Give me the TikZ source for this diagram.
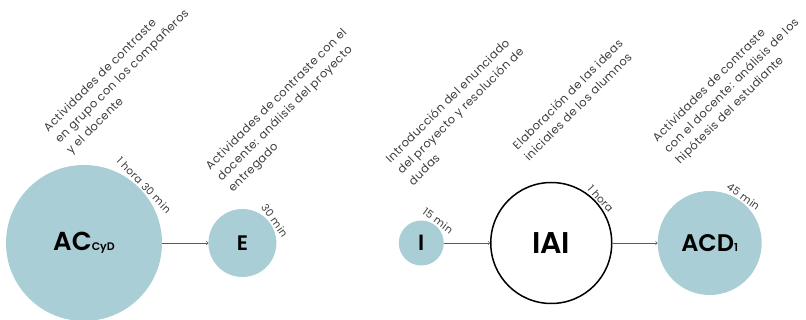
\documentclass[tikz,border=0pt]{standalone}
\usepackage{fontspec}
\setmainfont{Poppins}[BoldFont={Poppins SemiBold}]
\usetikzlibrary{positioning,arrows}
\definecolor{fase}{RGB}{170,206,213}
\definecolor{texto}{RGB}{60,60,60}

\tikzset{
  fase/.style={circle,fill=fase,text=black,inner sep=0pt,font=\bfseries},
  faseb/.style={circle,draw=black,line width=1.5pt,fill=white,inner sep=0pt,font=\bfseries},
  desc/.style={rotate=45,anchor=north west,inner sep=0pt,align=left,text=texto,
    font=\fontsize{11.5}{16}\selectfont\addfontfeature{LetterSpace=4}},
  dur/.style={anchor=south,inner sep=1pt,text=texto,
    font=\fontsize{10.5}{11}\selectfont\addfontfeature{LetterSpace=4}},
  flecha/.style={->,>=to,draw=black!65,line width=0.6pt}
}

\begin{document}
\begin{tikzpicture}[x=1pt,y=-1pt]
\useasboundingbox (0,0) rectangle (806,320);

% fases
\node [fase,minimum size=156pt] (acc) at (84,243)
  {\fontsize{26}{26}\selectfont AC\fontsize{11}{11}\selectfont CyD};
\node [fase,minimum size=68pt,right=46pt of acc] (e)
  {\fontsize{21}{21}\selectfont E};
\node [fase,minimum size=45pt,right=122pt of e] (i)
  {\fontsize{22}{22}\selectfont I};
\node [faseb,minimum size=121pt,right=46pt of i] (iai)
  {\fontsize{30}{30}\selectfont IAI};
\node [fase,minimum size=104pt,right=45pt of iai] (acd)
  {\fontsize{24}{24}\selectfont ACD\fontsize{11}{11}\selectfont 1};

\draw [flecha] (acc) -- (e);
\draw [flecha] (i) -- (iai);
\draw [flecha] (iai) -- (acd);

% duraciones
\node [dur,rotate=-46] at (acc.44) {1 hora 30 min};
\node [dur,rotate=-55] at (e.35) {30 min};
\node [dur,rotate=-37] at (i.53) {15 min};
\node [dur,rotate=-48] at (iai.42) {1 hora};
\node [dur,rotate=-36] at (acd.54) {45 min};

% descripciones
\node [desc] (dacc) at (42,126) {Actividades de contraste\\en grupo con los compañeros\\y el docente};
\node [desc] (de) at (204,164) {Actividades de contraste con el\\docente: análisis del proyecto\\entregado};
\node [desc] (di) at (384,157) {Introducción del enunciado\\del proyecto y resolución de\\dudas};
\node [desc] (diai) at (511,144) {Elaboración de las ideas\\iniciales de los alumnos};
\node [desc] (dacd) at (651,136) {Actividades de contraste\\con el docente: análisis de los\\hipótesis del estudiante};

\end{tikzpicture}
\end{document}
